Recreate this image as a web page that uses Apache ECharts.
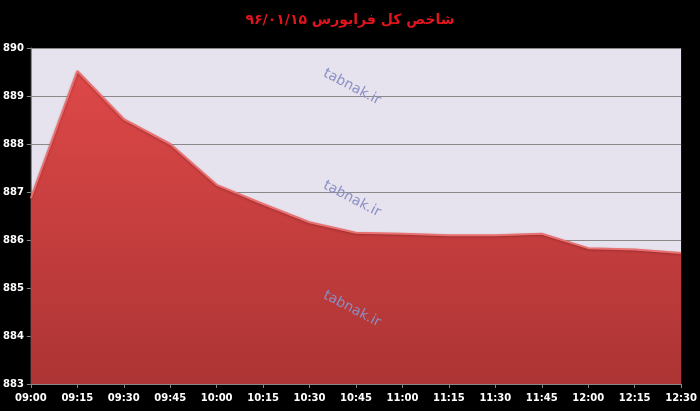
<!DOCTYPE html>
<html><head><meta charset="utf-8">
<script src="https://cdn.jsdelivr.net/npm/echarts@6/dist/echarts.min.js"></script>
<style>html,body{margin:0;padding:0;background:#000;}#c{width:700px;height:411px;}</style>
</head><body><div id="c"></div>
<script>
const categories = ['09:00','09:15','09:30','09:45','10:00','10:15','10:30','10:45','11:00','11:15','11:30','11:45','12:00','12:15','12:30'];
const values = [886.87, 889.52, 888.52, 888.0, 887.15, 886.75, 886.37, 886.15, 886.13, 886.1, 886.1, 886.13, 885.83, 885.8, 885.73];
const yTicks = [883, 884, 885, 886, 887, 888, 889, 890];
const titleText = 'شاخص کل فرابورس ۹۶/۰۱/۱۵';
const watermark = 'tabnak.ir';

const chart = echarts.init(document.getElementById('c'));
const wm = (x, y) => ({
  type: 'text', x: x, y: y, rotation: -0.48,
  style: { text: watermark, fill: '#8a8fc4', font: '14px "DejaVu Sans", sans-serif', textAlign: 'center', textVerticalAlign: 'middle' },
  z: 10
});
chart.setOption({
  backgroundColor: '#000',
  title: {
    text: titleText, left: 'center', top: 8,
    textStyle: { color: '#e0141e', fontSize: 14, fontWeight: 'bold', fontFamily: 'DejaVu Sans' }
  },
  grid: { left: 30, right: 16, top: 48, bottom: 27, show: true, backgroundColor: '#e6e2ee', borderWidth: 0 },
  xAxis: {
    type: 'category', data: categories, boundaryGap: false,
    axisLine: { lineStyle: { color: '#888' } },
    axisTick: { lineStyle: { color: '#888' }, length: 4 },
    axisLabel: { color: '#fff', fontSize: 10, fontWeight: 'bold', fontFamily: 'DejaVu Sans', margin: 9, interval: 0 },
    splitLine: { show: false }
  },
  yAxis: {
    type: 'value', min: yTicks[0], max: yTicks[yTicks.length - 1], interval: 1,
    axisLine: { show: true, lineStyle: { color: '#888' } },
    axisTick: { show: true, lineStyle: { color: '#888' }, length: 4 },
    axisLabel: { color: '#fff', fontSize: 10, fontWeight: 'bold', fontFamily: 'DejaVu Sans', margin: 7 },
    splitLine: { lineStyle: { color: '#8a8a8a', width: 1 } }
  },
  series: [{
    type: 'line', data: values, symbol: 'none', smooth: false,
    lineStyle: { color: '#e87070', width: 2, shadowColor: 'rgba(120,30,30,0.5)', shadowBlur: 2, shadowOffsetY: 1 },
    areaStyle: {
      opacity: 1,
      color: new echarts.graphic.LinearGradient(0, 0, 0, 1, [
        { offset: 0, color: '#de4848' },
        { offset: 1, color: '#ad3434' }
      ])
    }
  }],
  graphic: [wm(352, 87), wm(352, 199), wm(352, 309)]
});
</script></body></html>
